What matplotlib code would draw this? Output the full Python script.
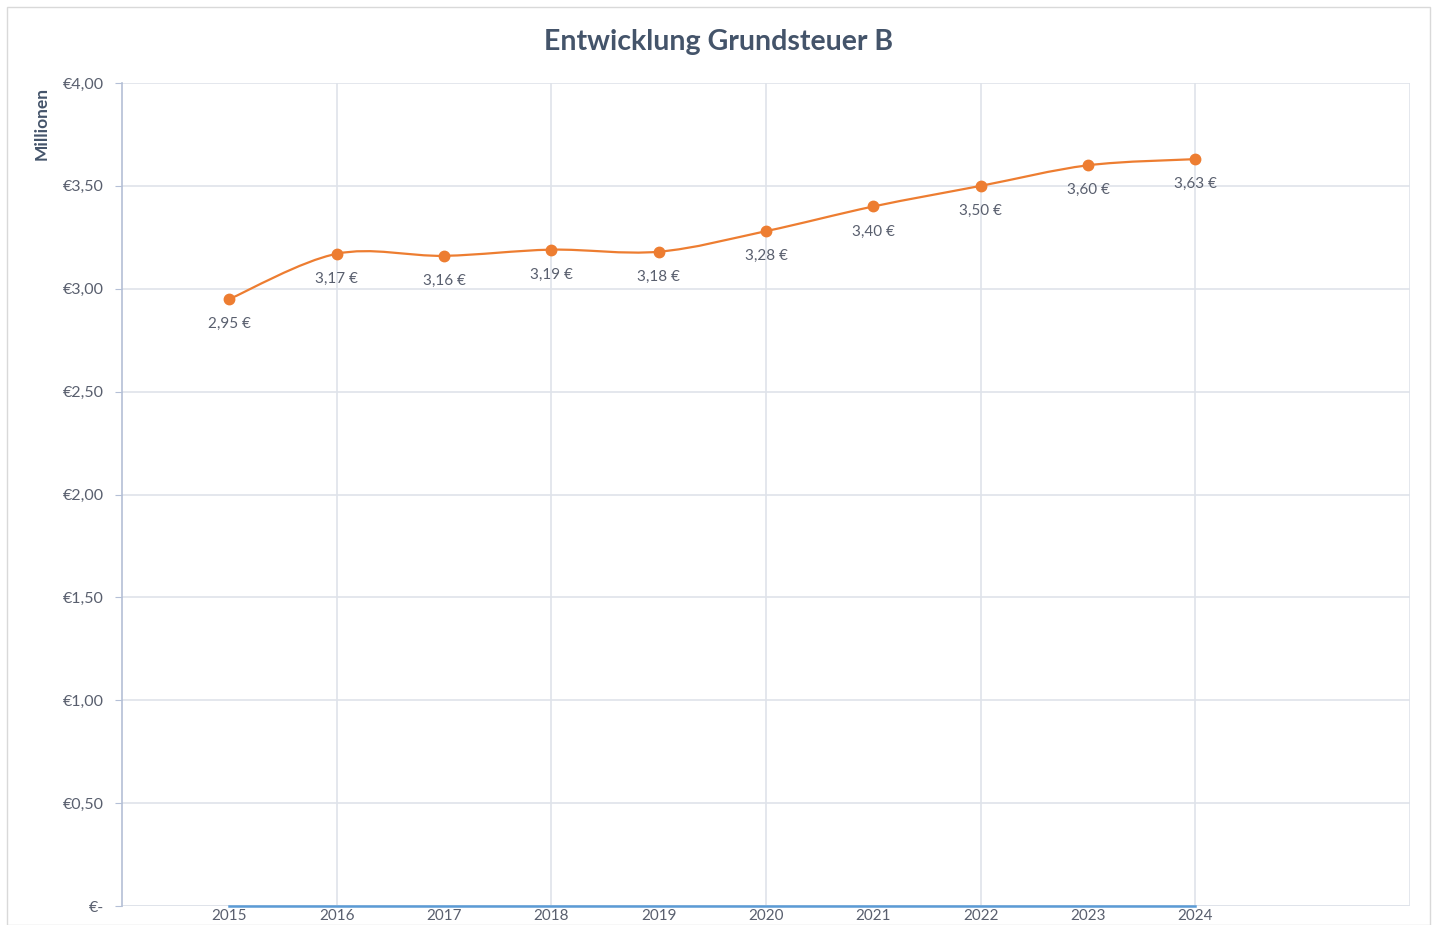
import matplotlib
matplotlib.use("Agg")
from matplotlib import pyplot as plt
from matplotlib.path import Path
from matplotlib.patches import PathPatch, Rectangle
import numpy as np

years = [2015, 2016, 2017, 2018, 2019, 2020, 2021, 2022, 2023, 2024]
values = [2.95, 3.17, 3.16, 3.19, 3.18, 3.28, 3.40, 3.50, 3.60, 3.63]
zero_series = [0, 0, 0, 0, 0, 0, 0, 0, 0, 0]
yticks = [0, 0.5, 1.0, 1.5, 2.0, 2.5, 3.0, 3.5, 4.0]
ytick_labels = ["€-", "€0,50", "€1,00", "€1,50", "€2,00", "€2,50", "€3,00", "€3,50", "€4,00"]

plt.rcParams['font.family'] = ['Lato', 'DejaVu Sans']

orange = '#ed7d31'
txt = '#595f6e'
grid_c = '#dfe3ea'
spine_c = '#b4bfd6'


def smooth_path(xs, ys, k=1/6):
    # excel-like smoothed line: bezier segments with catmull-rom control points
    xs = np.asarray(xs, float)
    ys = np.asarray(ys, float)
    n = len(xs)
    verts = [(xs[0], ys[0])]
    codes = [Path.MOVETO]
    for i in range(n - 1):
        i0 = max(i - 1, 0)
        i3 = min(i + 2, n - 1)
        c1 = (xs[i] + (xs[i + 1] - xs[i0]) * k, ys[i] + (ys[i + 1] - ys[i0]) * k)
        c2 = (xs[i + 1] - (xs[i3] - xs[i]) * k, ys[i + 1] - (ys[i3] - ys[i]) * k)
        verts += [c1, c2, (xs[i + 1], ys[i + 1])]
        codes += [Path.CURVE4] * 3
    return Path(verts, codes)


fig = plt.figure(figsize=(14.37, 9.25), dpi=100)
fig.patches.append(Rectangle((7/1437, 0), 1423/1437, 918/925, transform=fig.transFigure,
                             fill=False, edgecolor='#d9d9d9', linewidth=1.0))
ax = fig.add_axes([122/1437, 1 - 906/925, (1410 - 122)/1437, (906 - 83)/925])

ax.set_xlim(2014, 2026)
ax.set_ylim(0, 4)

ax.set_xticks(np.arange(2016, 2027, 2), minor=False)
ax.set_xticklabels([])
ax.tick_params(axis='x', length=0)
ax.grid(axis='x', color=grid_c, linewidth=1.2)
ax.grid(axis='y', color=grid_c, linewidth=1.2)
ax.set_axisbelow(True)

for yr in years:
    ax.text(yr, -0.015, str(yr), ha='center', va='top', fontsize=11, color=txt)

ax.set_yticks(yticks)
ax.set_yticklabels(ytick_labels, fontsize=11.5, color=txt)
ax.tick_params(axis='y', length=5, color=spine_c, pad=8)

for s in ['top', 'right', 'bottom']:
    ax.spines[s].set_visible(False)
ax.spines['left'].set_color(spine_c)
ax.spines['left'].set_linewidth(1.2)
ax.axhline(0, color=grid_c, linewidth=1.2, zorder=1)

ax.plot(years, zero_series, color='#5b9bd5', linewidth=1.8, zorder=3, clip_on=False)

ax.add_patch(PathPatch(smooth_path(years, values), facecolor='none', edgecolor=orange,
                       linewidth=1.6, zorder=4))
ax.plot(years, values, linestyle='none', marker='o', markersize=7.5, color=orange, zorder=5)

for yr, v in zip(years, values):
    ax.annotate(f"{v:.2f}".replace('.', ',') + " €", (yr, v), xytext=(0, -18),
                textcoords='offset points', ha='center', va='center', fontsize=11, color=txt)

fig.text(0.5, 1 - 42/925, "Entwicklung Grundsteuer B", ha='center', va='center',
         fontsize=20.5, fontweight='bold', color='#44546a')
fig.text(42/1437, 1 - 124/925, "Millionen", rotation=90, ha='center', va='center',
         fontsize=12.5, fontweight='bold', color='#44546a')

fig.savefig("out.png", dpi=100)
